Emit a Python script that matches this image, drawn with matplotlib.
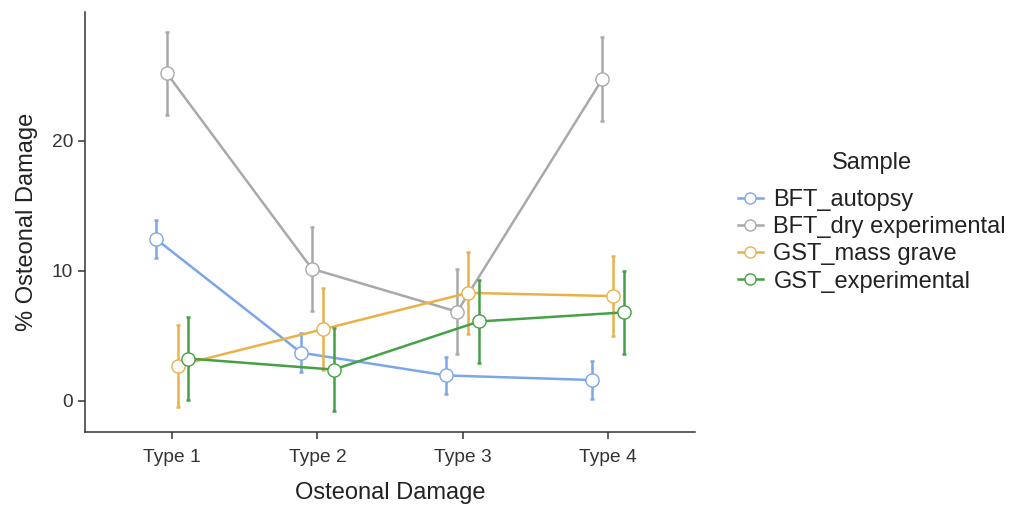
import matplotlib
matplotlib.use("Agg")
import matplotlib.pyplot as plt
from matplotlib.lines import Line2D
import numpy as np

plt.rcParams['font.family'] = ['Liberation Sans', 'DejaVu Sans']

categories = ["Type 1", "Type 2", "Type 3", "Type 4"]
series_names = ["BFT_autopsy", "BFT_dry experimental", "GST_mass grave", "GST_experimental"]
bft_autopsy_mean = [12.45, 3.7, 1.95, 1.6]
bft_autopsy_se = [1.45, 1.5, 1.45, 1.45]
bft_dry_mean = [25.2, 10.15, 6.85, 24.75]
bft_dry_se = [3.2, 3.25, 3.25, 3.25]
gst_mass_mean = [2.7, 5.5, 8.3, 8.05]
gst_mass_se = [3.15, 3.15, 3.15, 3.1]
gst_exp_mean = [3.25, 2.4, 6.1, 6.8]
gst_exp_se = [3.2, 3.2, 3.2, 3.2]

means = [bft_autopsy_mean, bft_dry_mean, gst_mass_mean, gst_exp_mean]
ses = [bft_autopsy_se, bft_dry_se, gst_mass_se, gst_exp_se]
colors = ["#7BA7E8", "#A9A9A9", "#E9B14C", "#46A046"]

fig = plt.figure(figsize=(10.3, 5.05), dpi=100)
ax = fig.add_axes([85/1030, 1-432/505, 610/1030, 420/505])

x = np.arange(1, len(categories)+1)
dodge = 0.3
n = len(series_names)
for i, (name, m, s, c) in enumerate(zip(series_names, means, ses, colors)):
    off = (i - (n-1)/2) * dodge / n
    xs = x + off
    ax.plot(xs, m, color=c, lw=1.8, zorder=2)
    ax.errorbar(xs, m, yerr=s, fmt='none', ecolor=c, elinewidth=1.8,
                capsize=1.5, capthick=1.8, zorder=2)
    ax.plot(xs, m, 'o', ms=9.5, mfc='white', mec=c, mew=1.0, ls='none', zorder=3)

ax.set_xlim(0.4, 4.6)
ax.set_ylim(-2.4, 29.9)
ax.set_xticks(x)
ax.set_xticklabels(categories)
ax.set_yticks([0, 10, 20])
for sp in ['top', 'right']:
    ax.spines[sp].set_visible(False)
for sp in ['left', 'bottom']:
    ax.spines[sp].set_linewidth(1.1)
    ax.spines[sp].set_color('#333333')
ax.tick_params(axis='both', labelsize=13.8, colors='#333333', length=5, width=1.1,
               labelcolor='#333333')
ax.tick_params(axis='x', pad=7)
ax.set_xlabel("Osteonal Damage", fontsize=17, color='#222222', labelpad=12)
ax.set_ylabel("% Osteonal Damage", fontsize=17, color='#222222', labelpad=10)

handles = [Line2D([0], [0], color=c, lw=1.8, marker='o', ms=8, mfc='white', mec=c, mew=1.0)
           for c in colors]
leg = fig.legend(handles, series_names, loc='upper left', bbox_to_anchor=(738/1030, 1-189/505),
                 frameon=False, fontsize=17,
                 handlelength=1.05, handletextpad=0.45, labelspacing=0.22, borderaxespad=0,
                 borderpad=0)
for t in leg.get_texts():
    t.set_color('#222222')
fig.text(872/1030, 1-163/505, "Sample", fontsize=17, color='#222222', ha='center', va='center')

fig.savefig("out.png", dpi=100)
